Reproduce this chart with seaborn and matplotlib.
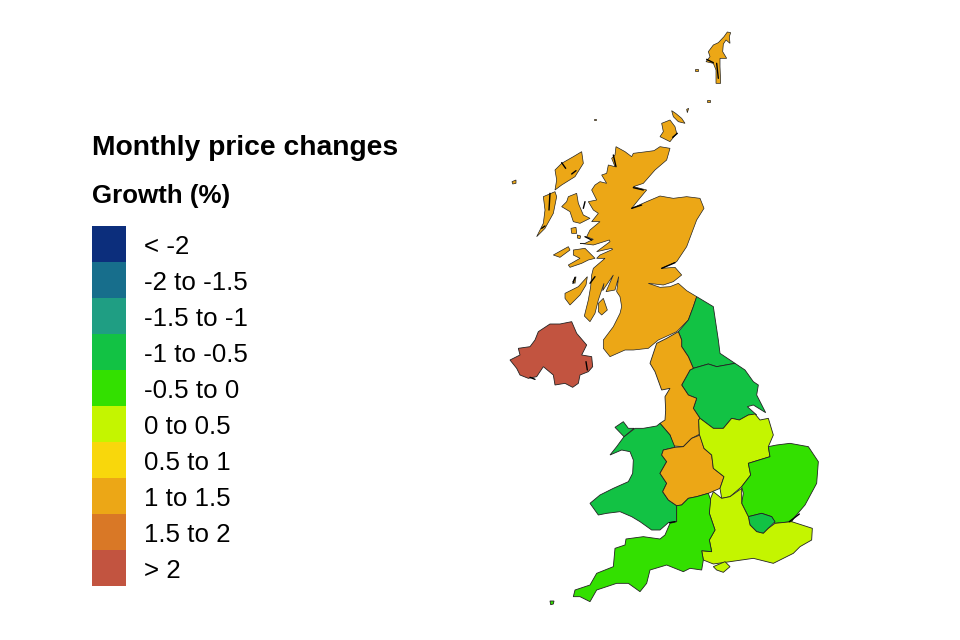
#!/usr/bin/env python3
# UK regional choropleth, outlines
import matplotlib
matplotlib.use("Agg")
import matplotlib.pyplot as plt
from matplotlib.colors import ListedColormap
from matplotlib.transforms import ScaledTranslation
import numpy as np
import seaborn as sns

band_labels = ["< -2", "-2 to -1.5", "-1.5 to -1", "-1 to -0.5", "-0.5 to 0",
               "0 to 0.5", "0.5 to 1", "1 to 1.5", "1.5 to 2", "> 2"]
band_colours = ["#0c2e7c", "#176e8c", "#1f9e83", "#12c244", "#33e000",
                "#c4f500", "#f8d70c", "#eca716", "#d97826", "#c25440"]

# outlines: traced units, y grows southwards, south of y=960 is given relative to 960
scotland = [(590,830),(560,812),(535,790),(510,800),(480,802),(445,790),(490,795),(520,785),(545,765),(525,742),(485,745),(530,725),(560,680),(575,640),(590,600),(612,565),(600,535),(560,530),(520,535),(480,528),(440,545),(395,565),(415,540),(440,510),(400,500),(430,490),(465,450),(500,420),(510,385),(480,380),(462,392),(440,395),(400,400),(395,410),(375,395),(348,380),(345,405),(335,415),(345,440),(325,435),(320,460),(305,465),(320,490),(300,485),(285,495),(275,510),(290,540),(265,545),(280,570),(295,580),(275,605),(300,605),(270,630),(260,650),(280,658),(255,670),(240,670),(280,675),(328,660),(330,665),(290,695),(335,685),(338,688),(300,705),(290,715),(315,715),(280,745),(275,765),(272,800),(265,840),(253,888),(270,905),(285,880),(295,840),(305,810),(312,790),(308,812),(340,765),(318,815),(345,810),(356,770),(350,815),(360,830),(365,860),(360,880),(340,920),(310,960),(310,985),(330,1010),(375,990),(400,990),(445,985),(475,960),(530,935),(565,900),(580,860)]
shetland = [(682,36),(692,38),(688,50),(690,70),(678,60),(670,72),(668,95),(680,115),(660,115),(660,140),(662,190),(648,190),(648,150),(640,130),(618,125),(630,110),(625,95),(640,75),(655,68),(672,50)]
orkney = [(485,310),(510,300),(525,320),(530,340),(510,365),(480,350),(490,335)]
orkney_north = [(515,272),(527,280),(545,295),(555,310),(535,305),(520,290)]
lewis = [(245,395),(250,430),(225,470),(185,495),(165,510),(170,480),(165,450),(185,430),(220,410)]
uist = [(165,515),(130,530),(135,570),(130,610),(110,650),(135,625),(160,580),(170,530)]
skye = [(185,560),(200,545),(205,530),(230,520),(235,550),(250,585),(270,595),(240,610),(220,605),(210,575)]
rum = [(213,625),(228,622),(230,640),(215,640)]
canna = [(232,645),(242,648),(240,656),(232,654)]
coll = [(160,705),(205,680),(210,690),(180,712)]
mull = [(220,690),(255,685),(285,715),(265,720),(245,730),(210,742),(205,735),(240,715),(220,705)]
islay = [(195,820),(235,800),(262,770),(258,795),(240,825),(210,855),(195,835)]
jura = [(218,785),(228,770),(225,790)]
arran = [(295,850),(310,835),(322,870),(305,885),(295,875)]
fair_isle = [(586,146),(594,146),(594,152),(586,152)]
foula = [(622,240),(630,240),(630,247),(622,247)]
st_kilda = [(36,485),(48,480),(48,490),(38,492)]
tiny_a = [(560,268),(566,265),(562,278)]
tiny_b = [(281,297),(288,297),(288,301),(281,301)]

northern_ireland = [(30,60),(60,45),(55,25),(90,20),(105,0),(115,-25),(150,-48),(180,-48),(215,-55),(230,-20),(260,15),(245,45),(275,50),(278,80),(265,95),(240,105),(235,130),(218,142),(195,130),(165,135),(160,105),(130,80),(110,110),(85,115),(60,105),(50,85)]
north_east = [(590,-130),(640,-100),(655,0),(660,40),(705,70),(650,80),(625,72),(580,85),(565,50),(545,20),(545,0),(535,-25),(565,-60),(580,-100)]
yorkshire = [(705,70),(735,90),(760,125),(775,135),(770,165),(797,218),(760,195),(742,200),(770,225),(745,225),(718,240),(695,235),(670,265),(640,265),(600,235),(580,205),(590,175),(565,165),(545,135),(570,90),(580,85),(625,72),(650,80)]
north_west = [(470,10),(450,70),(465,95),(485,150),(510,145),(495,170),(497,210),(495,240),(480,250),(510,285),(520,318),(550,320),(575,295),(598,283),(596,240),(600,235),(580,205),(590,175),(565,165),(545,135),(570,90),(580,85),(565,50),(545,20),(545,0),(535,-25),(500,-5)]
wales = [(372,290),(405,265),(430,265),(470,258),(480,250),(510,285),(525,322),(490,330),(485,345),(500,365),(480,400),(500,430),(488,455),(505,480),(530,497),(530,545),(505,548),(480,570),(455,570),(420,545),(395,530),(360,515),(320,520),(295,525),(270,490),(300,465),(340,445),(385,425),(398,400),(400,360),(390,335),(365,330),(330,345),(350,320)]
anglesey = [(345,262),(370,245),(385,265),(402,265),(372,290)]
west_midlands = [(525,322),(550,320),(575,295),(600,285),(612,325),(635,345),(640,385),(672,410),(660,445),(625,460),(590,470),(565,475),(545,495),(530,497),(505,480),(488,455),(500,430),(480,400),(500,365),(485,345),(490,330)]
east_midlands = [(600,235),(640,265),(670,265),(695,235),(718,240),(745,225),(765,222),(780,240),(805,235),(820,285),(805,320),(810,350),(745,370),(752,405),(725,440),(690,470),(665,475),(660,445),(672,410),(640,385),(635,345),(612,325),(598,283),(596,240)]
east_england = [(805,320),(830,315),(870,310),(925,320),(955,365),(950,430),(915,495),(885,530),(875,545),(825,550),(815,530),(785,520),(745,530),(735,510),(725,490),(730,460),(725,440),(752,405),(745,370),(810,350)]
london = [(745,530),(785,520),(815,530),(825,545),(805,565),(790,580),(770,575),(750,555)]
south_east = [(630,480),(640,455),(665,475),(690,470),(725,445),(725,490),(735,510),(745,530),(750,555),(770,575),(790,580),(805,565),(825,550),(875,545),(937,565),(935,600),(900,620),(880,640),(820,670),(760,655),(690,665),(640,672),(610,660),(605,632),(635,635),(628,600),(645,570),(628,520)]
wight = [(640,680),(675,665),(690,680),(670,697),(650,690)]
south_west = [(530,497),(545,495),(565,475),(590,470),(625,460),(632,480),(628,520),(645,570),(628,600),(635,635),(605,632),(610,660),(605,690),(570,685),(550,695),(500,675),(450,690),(440,730),(420,755),(385,730),(350,730),(320,740),(290,750),(270,785),(240,770),(220,770),(225,750),(270,735),(290,700),(340,680),(345,625),(375,615),(378,597),(430,590),(480,597),(495,585),(510,550),(530,545)]
scilly = [(150,783),(162,783),(160,792),(152,794)]

north_shapes = [scotland, shetland, orkney, orkney_north, lewis, uist, skye, rum, canna, coll, mull, islay,
                jura, arran, fair_isle, foula, st_kilda, tiny_a, tiny_b]
north_bands = ["1 to 1.5"] * len(north_shapes)
south_shapes = [northern_ireland, north_east, yorkshire, north_west, wales, anglesey,
                west_midlands, east_midlands, east_england, london, south_east, wight, south_west, scilly]
south_bands = ["> 2", "-1 to -0.5", "-1 to -0.5", "1 to 1.5", "-1 to -0.5", "-1 to -0.5",
               "1 to 1.5", "0 to 0.5", "-0.5 to 0", "-1 to -0.5", "0 to 0.5", "0 to 0.5", "-0.5 to 0", "-0.5 to 0"]

# the sea lochs and narrow channels come out nearly black in the picture
loch_lines = [[(185,428),(197,445)],[(215,462),(228,452)],[(150,520),(147,570)],[(125,625),(135,618)],
              [(650,130),(655,175)],[(620,118),(640,128)],[(340,405),(348,440)],[(395,565),(425,555)],
              [(400,503),(430,510)],[(485,745),(525,728)],[(255,650),(275,660)],[(270,790),(285,770)],
              [(225,772),(219,790)],[(255,545),(250,565)],[(532,340),(518,352)]]
south_lines = [[(868,545),(898,522)],[(508,548),(525,545)],[(90,112),(105,118)],[(258,65),(262,90)]]

sns.set_theme(style="white")
plt.rcParams["font.family"] = ["Liberation Sans", "DejaVu Sans"]

fig = plt.figure(figsize=(9.6, 6.4), dpi=100)
ax = fig.add_axes([0, 0, 1, 1])
ax.set_xlim(-1500, 1380)
ax.set_ylim(1860, -60)
ax.axis("off")

colour_of = dict(zip(band_labels, band_colours))
for shape, band in zip(north_shapes, north_bands):
    xs, ys = zip(*shape)
    ax.fill(xs, ys, facecolor=colour_of[band], edgecolor="#222222", linewidth=0.5)
for shape, band in zip(south_shapes, south_bands):
    xs, ys = zip(*shape)
    ax.fill(xs, np.array(ys) + 960, facecolor=colour_of[band], edgecolor="#222222", linewidth=0.6)
for line in loch_lines:
    xs, ys = zip(*line)
    ax.plot(xs, ys, color="black", linewidth=1.0)
for line in south_lines:
    xs, ys = zip(*line)
    ax.plot(xs, np.array(ys) + 960, color="black", linewidth=1.0)

fig.text(92 / 960, 1 - 148 / 640, "Monthly price changes", fontsize=20.3, fontweight="bold",
         color="black", va="center", ha="left")
fig.text(92 / 960, 1 - 196 / 640, "Growth (%)", fontsize=18.6, fontweight="bold",
         color="black", va="center", ha="left")

# legend key is a one column heatmap, one cell per band
key_ax = fig.add_axes([92 / 960, 1 - 586 / 640, 34 / 960, 360 / 640])
sns.heatmap(np.arange(len(band_labels)).reshape(-1, 1), ax=key_ax, cbar=False,
            cmap=ListedColormap(band_colours), xticklabels=False, yticklabels=band_labels)
key_ax.yaxis.tick_right()
key_ax.tick_params(axis="y", length=0, pad=13, labelsize=18.6, labelcolor="black", labelrotation=0)
nudge = ScaledTranslation(0, -1 / 100, fig.dpi_scale_trans)
for label in key_ax.get_yticklabels():
    label.set_transform(label.get_transform() + nudge)

fig.savefig("out.png", dpi=100, facecolor="white")
